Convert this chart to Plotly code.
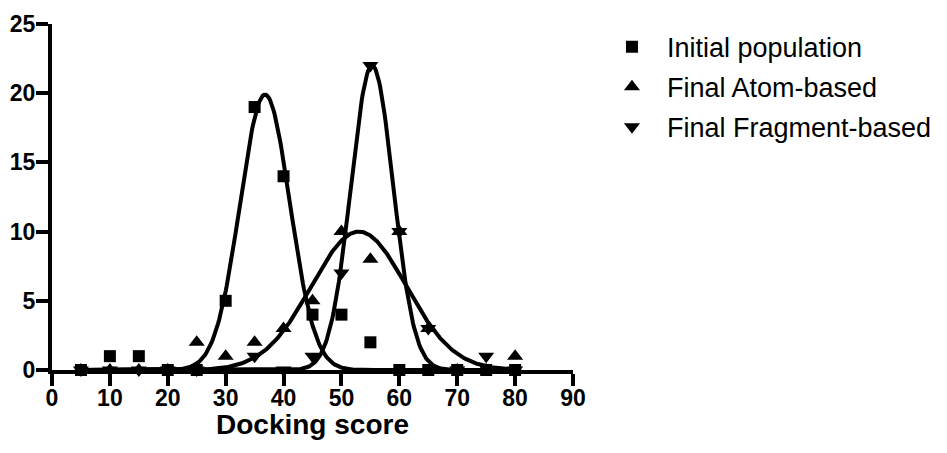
import numpy as np
import plotly.graph_objects as go

# ---- data ----
scores = [5, 10, 15, 20, 25, 30, 35, 40, 45, 50, 55, 60, 65, 70, 75, 80]
initial_pop = [0, 1, 1, 0, 0, 5, 19, 14, 4, 4, 2, 0, 0, 0, 0, 0]
final_atom = [0, 0, 0, 0, 2, 1, 2, 3, 5, 10, 8, 10, 3, 0, 0, 1]
final_frag = [0, 0, 0, 0, 0, 0, 1, 0, 1, 7, 22, 10, 3, 0, 1, 0]

# Gaussian fit parameters (amplitude, mean, sd)
fit_initial = [19.9, 36.8, 4.3]
fit_atom = [10.0, 53.0, 8.2]
fit_frag = [22.0, 55.3, 3.65]

x_ticks = [0, 10, 20, 30, 40, 50, 60, 70, 80, 90]
y_ticks = [0, 5, 10, 15, 20, 25]
x_title = "Docking score"

names = ["Initial population", "Final Atom-based", "Final Fragment-based"]
symbols = ["square", "triangle-up", "triangle-down"]
sizes = [12, 14, 14]

xs = np.linspace(min(scores), max(scores), 400)

def gauss(p):
    a, m, s = p
    return a * np.exp(-((xs - m) ** 2) / (2 * s * s))

fig = go.Figure()
for p in (fit_initial, fit_atom, fit_frag):
    fig.add_trace(go.Scatter(x=xs, y=gauss(p), mode="lines",
                             line=dict(color="black", width=4),
                             showlegend=False, hoverinfo="skip",
                             cliponaxis=False))

for i, (ys, nm) in enumerate(zip([initial_pop, final_atom, final_frag], names)):
    fig.add_trace(go.Scatter(x=scores, y=ys, mode="markers", name=nm,
                             marker=dict(symbol=symbols[i], size=sizes[i],
                                         color="black", line=dict(width=0)),
                             cliponaxis=False, legendgroup=nm))

tick_font = dict(family="Liberation Sans, Arial, sans-serif", size=23,
                 color="black", weight="bold")

fig.update_layout(
    width=947, height=453,
    margin=dict(l=52, r=374, t=24, b=83, autoexpand=False),
    plot_bgcolor="white", paper_bgcolor="white",
    showlegend=True,
    legend=dict(x=1.046, y=1.004, xanchor="left", yanchor="top",
                font=dict(family="Liberation Sans, Arial, sans-serif",
                          size=27, color="black"),
                tracegroupgap=2, traceorder="grouped",
                bgcolor="rgba(0,0,0,0)", itemwidth=60),
    xaxis=dict(range=[0, 90], tickvals=x_ticks, ticktext=[str(v) for v in x_ticks],
               showgrid=False, zeroline=False, showline=True, automargin=False,
               linecolor="black", linewidth=4,
               ticks="outside", ticklen=12, tickwidth=3.5, tickcolor="black",
               tickfont=tick_font, ticklabelstandoff=-8),
    yaxis=dict(range=[0, 25], tickvals=y_ticks, ticktext=[str(v) for v in y_ticks],
               showgrid=False, zeroline=False, showline=True, automargin=False,
               linecolor="black", linewidth=4,
               ticks="outside", ticklen=12, tickwidth=3.5, tickcolor="black",
               tickfont=tick_font, ticklabelstandoff=-4),
    annotations=[dict(text=x_title, xref="paper", yref="paper",
                      x=0.5, y=-0.158, xanchor="center", yanchor="middle",
                      showarrow=False,
                      font=dict(family="Liberation Sans, Arial, sans-serif",
                                size=28, color="black", weight="bold"))],
)

fig.write_html("out.html", config={"displayModeBar": False},
               post_script="document.body.style.margin='0';document.body.style.padding='0';")
